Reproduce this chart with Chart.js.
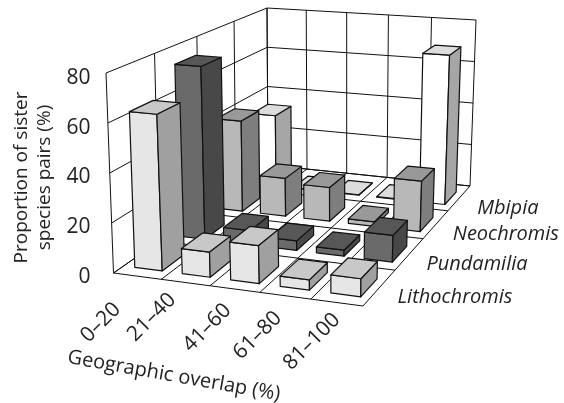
<!DOCTYPE html>
<html>
<head>
<meta charset="utf-8">
<script src="https://cdn.jsdelivr.net/npm/chart.js@4/dist/chart.umd.min.js"></script>
<style>
	html, body { margin: 0; background: #fff; }
	canvas { display: block; }
</style>
</head>
<body>
<canvas id="chart" width="564" height="403"></canvas>
<script>
const overlapLabels = ['0–20', '21–40', '41–60', '61–80', '81–100'];
const seriesNames = ['Lithochromis', 'Pundamilia', 'Neochromis', 'Mbipia'];
const lithochromis = [63, 10, 15, 4, 7];
const pundamilia = [74, 6, 4, 2.5, 11];
const neochromis = [41, 17, 15, 2, 22];
const mbipia = [34, 0.2, 0.2, 0.2, 69];
const axisTicks = [0, 20, 40, 60, 80];

// front, side, top colour of each series
const faceColors = [
	['#e6e6e6', '#a0a0a0', '#c8c8c8'],
	['#6a6a6a', '#484848', '#575757'],
	['#b8b8b8', '#7e7e7e', '#999999'],
	['#ffffff', '#a6a6a6', '#dcdcdc'],
];
const font = '"Open Sans", sans-serif';
const barWidth = 0.58;
const barDepth = 0.5;
const barOffset = 0.03;
const barShift = -0.04;

// corners of the box on screen: front left, front right, back right, back left
const floorQuad = [[113.5, 273], [363, 306], [470, 186], [268, 165]];
const topQuad = [[106, 73], [366, 96], [476, 20], [267, 8]];

// where the rotated category labels end, relative to the floor's front edge
const labelOffsets = [[-20, 30], [-13, 14], [-7, 18], [-7, 19], [0, 14]];
const seriesGap = [18, 17, 17, 18];

function squareToQuad(q) {
	const dx1 = q[1][0] - q[2][0], dx2 = q[3][0] - q[2][0], sx = q[0][0] - q[1][0] + q[2][0] - q[3][0];
	const dy1 = q[1][1] - q[2][1], dy2 = q[3][1] - q[2][1], sy = q[0][1] - q[1][1] + q[2][1] - q[3][1];
	const d = dx1 * dy2 - dx2 * dy1;
	const g = (sx * dy2 - dx2 * sy) / d, h = (dx1 * sy - sx * dy1) / d;
	const a = q[1][0] - q[0][0] + g * q[1][0], b = q[3][0] - q[0][0] + h * q[3][0];
	const c = q[1][1] - q[0][1] + g * q[1][1], e = q[3][1] - q[0][1] + h * q[3][1];
	return (u, v) => {
		const w = g * u + h * v + 1;
		return [(a * u + b * v + q[0][0]) / w, (c * u + e * v + q[0][1]) / w];
	};
}
const floorMap = squareToQuad(floorQuad);
const topMap = squareToQuad(topQuad);

const box3d = {
	id: 'box3d',
	beforeDatasetsDraw(chart) {
		const {ctx, scales} = chart;
		const xs = scales.x, ds = scales.depth, ys = scales.y;

		// category, row and value go through the scales, then into the box
		const pt = (cat, row, val) => {
			const u = (xs.getPixelForValue(cat) - xs.left) / xs.width;
			const v = (ds.getPixelForValue(row) - ds.left) / ds.width;
			const h = (ys.bottom - ys.getPixelForValue(val)) / ys.height;
			const a = floorMap(u, v), b = topMap(u, v);
			return [a[0] + (b[0] - a[0]) * h, a[1] + (b[1] - a[1]) * h];
		};
		const poly = (points, fill) => {
			ctx.beginPath();
			points.forEach((p, i) => i ? ctx.lineTo(p[0], p[1]) : ctx.moveTo(p[0], p[1]));
			ctx.closePath();
			ctx.fillStyle = fill;
			ctx.fill();
			ctx.stroke();
		};
		const line = (a, b) => {
			ctx.beginPath();
			ctx.moveTo(a[0], a[1]);
			ctx.lineTo(b[0], b[1]);
			ctx.stroke();
		};

		const c0 = -0.5, c1 = overlapLabels.length - 0.5;
		const r0 = -0.5, r1 = seriesNames.length - 0.5;
		const vMax = axisTicks[axisTicks.length - 1];

		ctx.save();
		ctx.strokeStyle = '#111';
		ctx.lineWidth = 1;
		ctx.lineJoin = 'round';

		// walls
		axisTicks.forEach(t => {
			line(pt(c0, r0, t), pt(c0, r1, t));
			line(pt(c0, r1, t), pt(c1, r1, t));
		});
		for (let r = r0; r <= r1; r++) line(pt(c0, r, 0), pt(c0, r, vMax));
		for (let c = c0; c <= c1; c++) line(pt(c, r1, 0), pt(c, r1, vMax));
		// floor
		for (let r = r0; r <= r1; r++) line(pt(c0, r, 0), pt(c1, r, 0));
		for (let c = c0; c <= c1; c++) line(pt(c, r0, 0), pt(c, r1, 0));

		// bars, back row first, left to right
		ctx.lineWidth = 1.2;
		for (let r = seriesNames.length - 1; r >= 0; r--) {
			const values = chart.data.datasets[r].data;
			const colors = faceColors[r];
			overlapLabels.forEach((name, c) => {
				const val = values[c];
				const l = c + barOffset - barWidth / 2, w = c + barOffset + barWidth / 2;
				const f = r + barShift - barDepth / 2, b = r + barShift + barDepth / 2;
				poly([pt(l, f, 0), pt(w, f, 0), pt(w, f, val), pt(l, f, val)], colors[0]);
				poly([pt(w, f, 0), pt(w, b, 0), pt(w, b, val), pt(w, f, val)], colors[1]);
				poly([pt(l, f, val), pt(w, f, val), pt(w, b, val), pt(l, b, val)], colors[2]);
			});
		}

		// category labels along the front edge
		ctx.fillStyle = '#222';
		ctx.font = '21px ' + font;
		ctx.textAlign = 'right';
		ctx.textBaseline = 'middle';
		overlapLabels.forEach((name, c) => {
			const p = pt(c, r0, 0);
			ctx.save();
			ctx.translate(p[0] + labelOffsets[c][0], p[1] + labelOffsets[c][1]);
			ctx.rotate(-Math.PI / 4);
			ctx.fillText(name, 0, 0);
			ctx.restore();
		});

		// series labels along the right edge
		ctx.font = 'italic 20px ' + font;
		ctx.textAlign = 'left';
		seriesNames.forEach((name, r) => {
			const p = pt(c1, r, 0);
			ctx.fillText(name, p[0] + seriesGap[r], p[1] + 10);
		});

		ctx.font = '20px ' + font;
		ctx.textAlign = 'center';
		ctx.save();
		ctx.translate(174, 376);
		ctx.rotate(0.175);
		ctx.fillText('Geographic overlap (%)', 0, 0);
		ctx.restore();

		ctx.restore();
		return false;
	},
};

new Chart(document.getElementById('chart'), {
	type: 'bar',
	data: {
		labels: overlapLabels,
		datasets: [
			{label: seriesNames[0], data: lithochromis},
			{label: seriesNames[1], data: pundamilia},
			{label: seriesNames[2], data: neochromis},
			{label: seriesNames[3], data: mbipia},
		],
	},
	options: {
		responsive: false,
		animation: false,
		layout: {padding: {left: 10, top: 78, right: 100, bottom: 126}},
		plugins: {legend: {display: false}, tooltip: {enabled: false}},
		scales: {
			x: {display: false},
			depth: {type: 'category', axis: 'x', labels: seriesNames, display: false},
			y: {
				min: 0,
				max: 80,
				afterBuildTicks(scale) {
					scale.ticks = axisTicks.map(value => ({value}));
				},
				grid: {display: false},
				border: {display: false},
				ticks: {color: '#222', font: {family: font, size: 21}, padding: 3},
				title: {
					display: true,
					text: ['Proportion of sister', 'species pairs (%)'],
					color: '#222',
					font: {family: font, size: 19},
					padding: {top: 0, bottom: 8},
				},
			},
		},
	},
	plugins: [box3d],
});
</script>
</body>
</html>
